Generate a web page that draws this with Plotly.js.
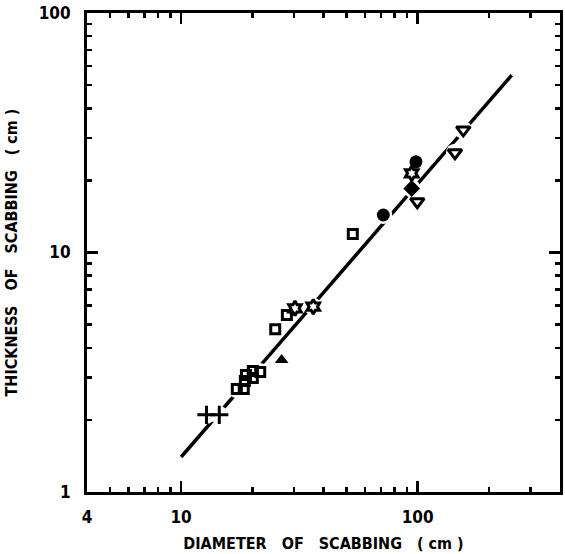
<!DOCTYPE html>
<html>
<head>
<meta charset="utf-8">
<script src="https://cdn.plot.ly/plotly-3.0.1.min.js"></script>
<style>html,body{margin:0;padding:0;background:#fff;}#chart{width:565px;height:554px;}</style>
</head>
<body>
<div id="chart"></div>
<script>
// Fitted line endpoints (diameter cm, thickness cm)
const fitX = [10, 250];
const fitY = [1.4, 55];

// Observations by symbol group
const plusX = [12.8, 14.5];
const plusY = [2.1, 2.1];
const squareX = [17.2, 18.4, 18.6, 18.8, 20.1, 21.6, 20.1, 25.0, 28.0, 53.2];
const squareY = [2.69, 2.69, 2.91, 3.08, 3.20, 3.17, 2.99, 4.78, 5.48, 11.95];
const triUpX = [26.6];
const triUpY = [3.56];
const hexX = [30.3, 36.2, 94.4];
const hexY = [5.85, 5.94, 21.4];
const circleX = [71.6, 98.4];
const circleY = [14.34, 23.9];
const diamondX = [94.4];
const diamondY = [18.5];
const triDownX = [99.7, 143.9, 156];
const triDownY = [16.3, 26.1, 32.5];

const xTickVals = [4, 10, 100, 400];
const xTickText = ['4', '10', '100', '400'];
const xMinorVals = [5, 6, 7, 8, 9, 20, 30, 40, 50, 60, 70, 80, 90, 200, 300];
const yTickVals = [1, 10, 100];
const yTickText = ['1', '10', '100'];
const yMinorVals = [2, 3, 4, 5, 6, 7, 8, 9, 20, 30, 40, 50, 60, 70, 80, 90];

const allX = [].concat(plusX, squareX, triUpX, hexX, circleX, diamondX, triDownX);
const allY = [].concat(plusY, squareY, triUpY, hexY, circleY, diamondY, triDownY);

function pts(x, y, symbol, size, lw) {
  return {x: x, y: y, type: 'scatter', mode: 'markers', hoverinfo: 'skip',
    marker: {symbol: symbol, size: size, color: '#000', line: {color: '#000', width: lw}}};
}

const traces = [
  {x: fitX, y: fitY, type: 'scatter', mode: 'lines', line: {color: '#000', width: 3.5}, hoverinfo: 'skip'},
  {x: allX, y: allY, type: 'scatter', mode: 'markers', hoverinfo: 'skip',
    marker: {symbol: 'circle', size: 18, color: '#fff', line: {width: 0}}},
  pts(plusX, plusY, 'cross-thin-open', 13, 3),
  pts(squareX, squareY, 'square-open', 9, 3),
  pts(triUpX, triUpY, 'triangle-up', 12, 0),
  pts(hexX, hexY, 'hexagram-open', 11, 3),
  pts(circleX, circleY, 'circle', 13, 0),
  pts(diamondX, diamondY, 'diamond', 13, 0),
  pts(triDownX, triDownY, 'triangle-down-open', 12, 3)
];

const tickFont = {family: 'DejaVu Sans Condensed, DejaVu Sans, sans-serif', size: 17, color: '#000', weight: 'bold'};
const titleFont = {family: 'DejaVu Sans Condensed, DejaVu Sans, sans-serif', size: 16, color: '#000', weight: 'bold'};
const S = '\u00A0\u00A0\u00A0';

const layout = {
  width: 565, height: 554,
  margin: {l: 87, r: 5, t: 13, b: 62},
  paper_bgcolor: '#fff', plot_bgcolor: '#fff',
  showlegend: false,
  xaxis: {
    type: 'log', range: [Math.log10(4), Math.log10(400)],
    tickmode: 'array', tickvals: xTickVals, ticktext: xTickText,
    ticks: 'inside', ticklen: 11, tickwidth: 2.5, tickcolor: '#000',
    minor: {tickmode: 'array', tickvals: xMinorVals, ticks: 'inside', ticklen: 5, tickwidth: 2.5, tickcolor: '#000', showgrid: false},
    showline: true, linewidth: 3, linecolor: '#000', mirror: 'ticks',
    showgrid: false, zeroline: false,
    tickfont: tickFont, ticklabelstandoff: 8,
    title: {text: 'DIAMETER' + S + 'OF' + S + 'SCABBING' + S + '(\u00A0cm\u00A0)', font: titleFont, standoff: 12}
  },
  yaxis: {
    type: 'log', range: [0, 2],
    tickmode: 'array', tickvals: yTickVals, ticktext: yTickText,
    ticks: 'inside', ticklen: 11, tickwidth: 2.5, tickcolor: '#000',
    minor: {tickmode: 'array', tickvals: yMinorVals, ticks: 'inside', ticklen: 5, tickwidth: 2.5, tickcolor: '#000', showgrid: false},
    showline: true, linewidth: 3, linecolor: '#000', mirror: 'ticks',
    showgrid: false, zeroline: false,
    tickfont: tickFont, ticklabelstandoff: 10,
    title: {text: 'THICKNESS' + S + 'OF' + S + 'SCABBING' + S + '(\u00A0cm\u00A0)', font: titleFont, standoff: 18}
  }
};

Plotly.newPlot('chart', traces, layout, {displayModeBar: false, staticPlot: true});
</script>
</body>
</html>
